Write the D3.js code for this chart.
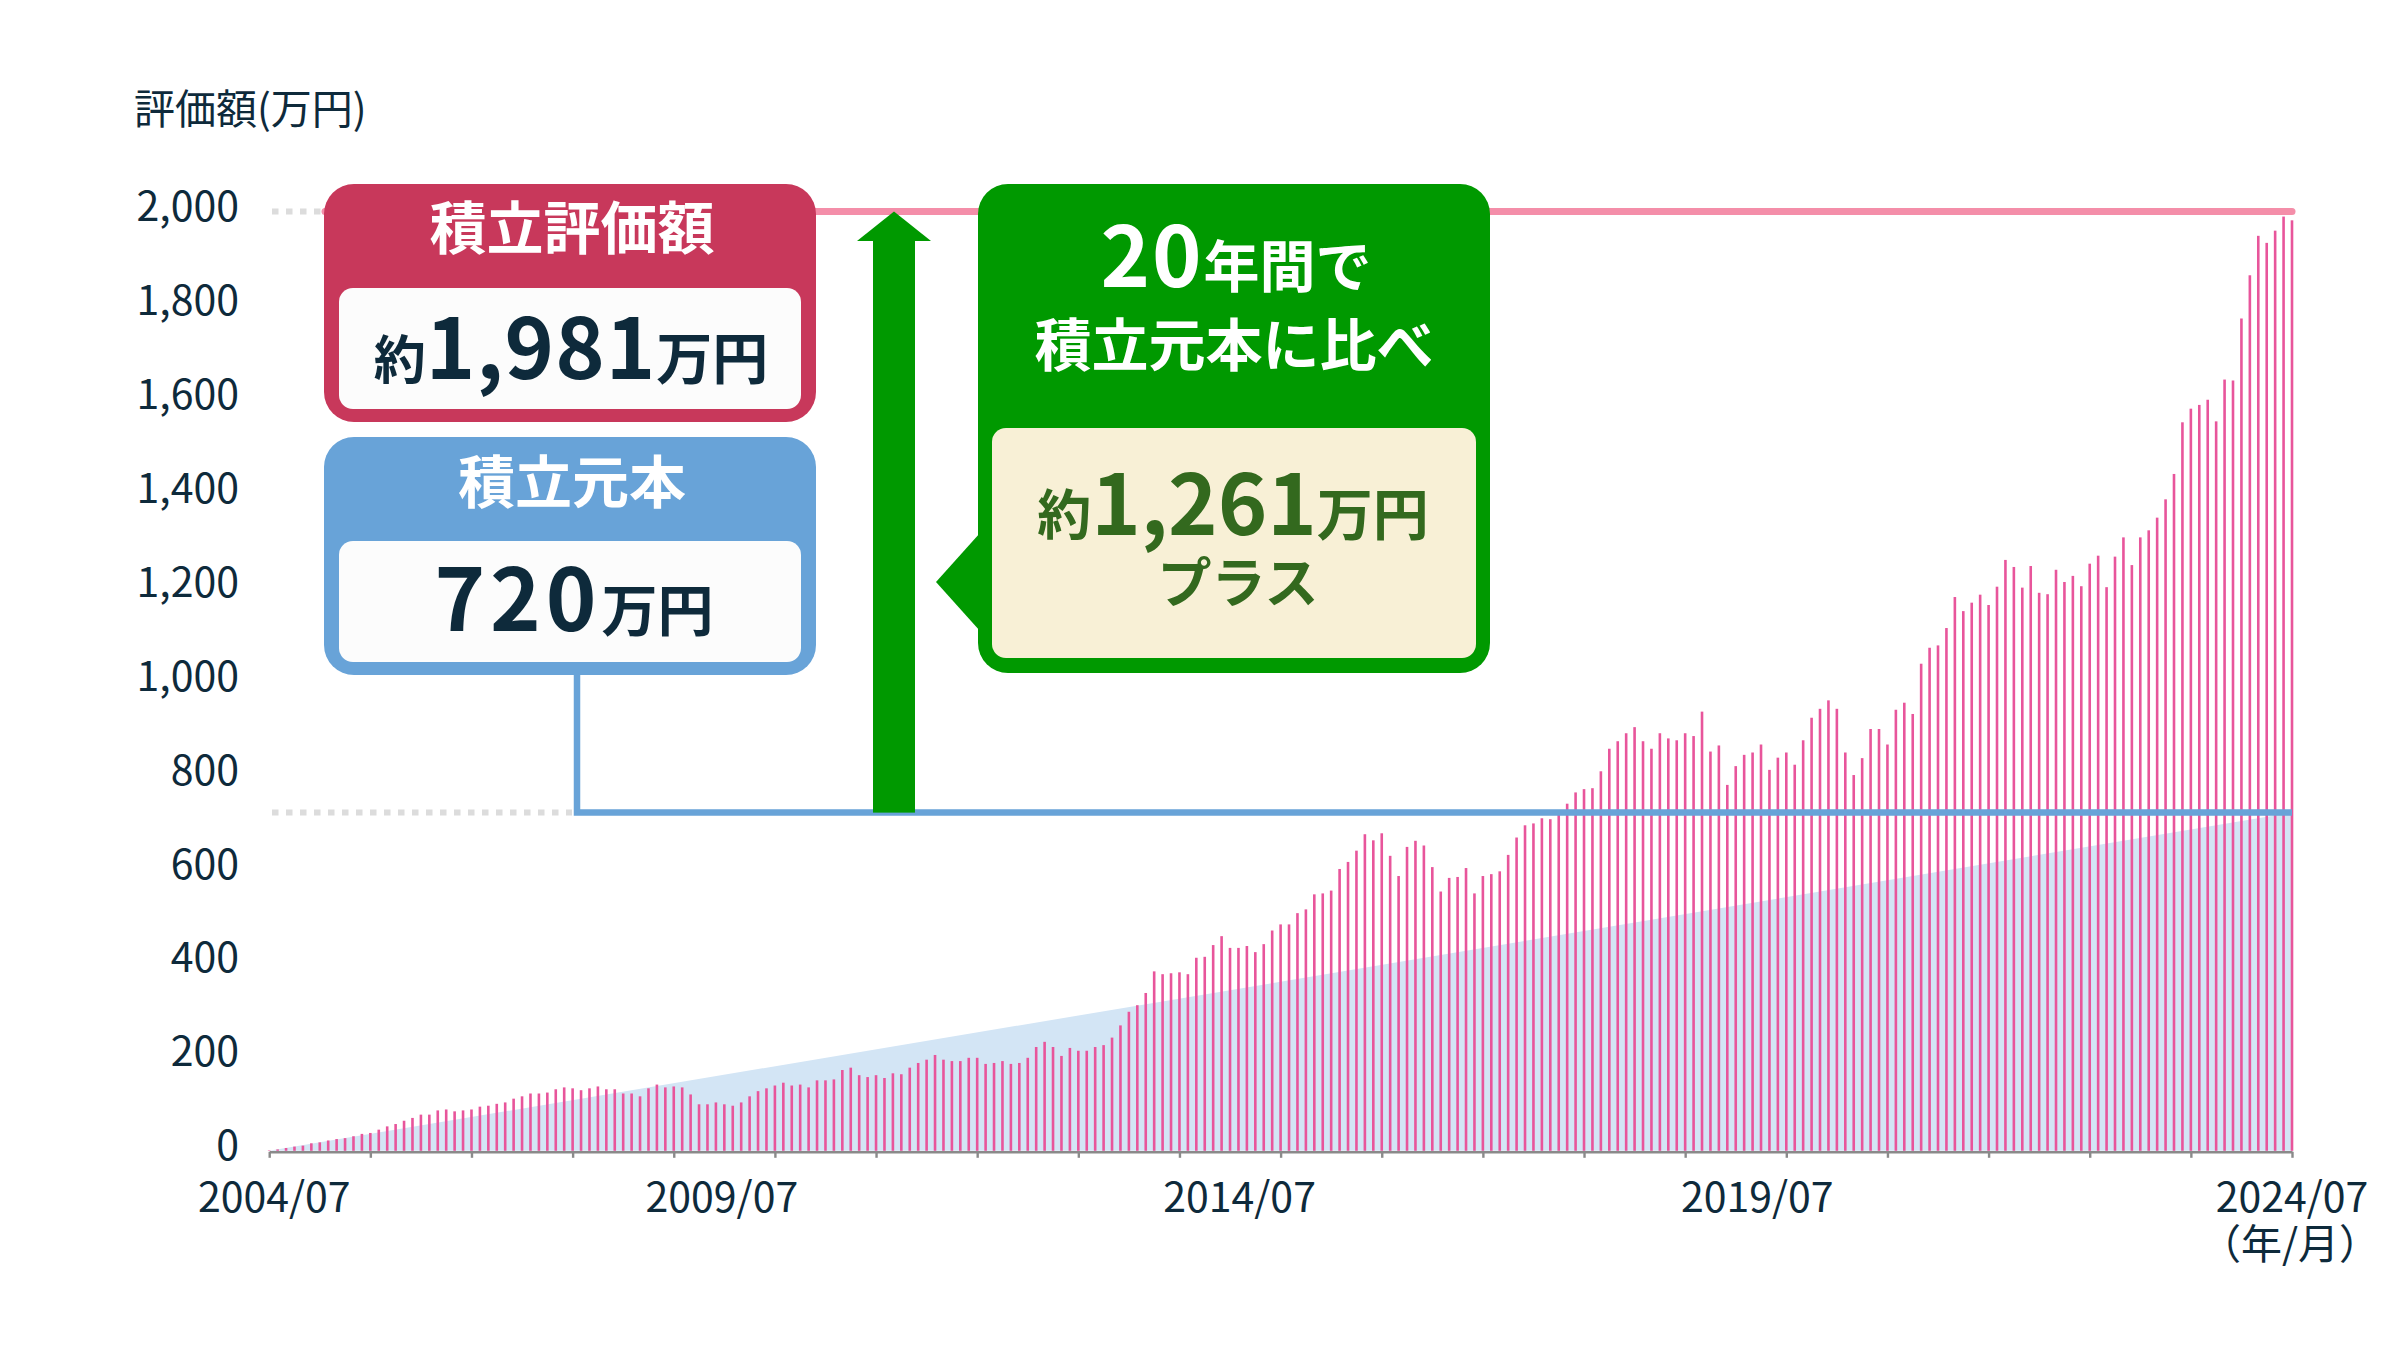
<!DOCTYPE html>
<html lang="ja">
<head>
<meta charset="utf-8">
<script src="https://cdn.jsdelivr.net/npm/d3@7"></script>
<style>
  html, body { margin: 0; padding: 0; background: #fff; }
  svg { display: block; font-family: "Noto Sans CJK JP", "Noto Sans", sans-serif; }
</style>
</head>
<body>
<svg id="chart" width="2400" height="1350"></svg>
<script>
// 積立評価額 (万円) 2004/07 - 2024/07 monthly
const valuation = [
  1, 3, 6, 9, 11, 16, 18, 22, 25, 27, 31, 36,
  38, 45, 52, 57, 64, 70, 77, 77, 86, 88, 84, 86,
  88, 94, 96, 100, 103, 111, 116, 122, 122, 124, 131, 135,
  133, 129, 133, 137, 131, 131, 122, 122, 116, 133, 141, 135,
  137, 135, 120, 99, 99, 103, 99, 96, 103, 116, 127, 133,
  139, 145, 139, 141, 135, 150, 150, 152, 172, 177, 161, 157,
  161, 155, 165, 163, 177, 187, 194, 204, 194, 191, 191, 198,
  198, 185, 187, 191, 185, 187, 198, 221, 232, 221, 202, 219,
  213, 213, 221, 225, 241, 267, 296, 310, 336, 382, 376, 378,
  380, 376, 411, 413, 438, 457, 432, 432, 436, 423, 440, 469,
  482, 482, 506, 514, 546, 548, 554, 600, 615, 639, 674, 661,
  676, 628, 585, 647, 660, 650, 604, 552, 581, 583, 602, 548,
  585, 589, 595, 630, 667, 693, 697, 708, 706, 719, 739, 763,
  770, 772, 808, 856, 872, 889, 902, 872, 856, 889, 878, 874,
  889, 883, 935, 850, 863, 779, 819, 843, 848, 865, 811, 837,
  848, 822, 874, 922, 941, 959, 941, 848, 800, 836, 898, 898,
  865, 939, 954, 930, 1037, 1071, 1076, 1113, 1179, 1149, 1167, 1184,
  1162, 1201, 1258, 1243, 1199, 1245, 1188, 1185, 1237, 1211, 1224, 1202,
  1250, 1267, 1200, 1265, 1306, 1247, 1306, 1321, 1348, 1387, 1441, 1551,
  1580, 1588, 1599, 1553, 1642, 1640, 1772, 1864, 1948, 1933, 1959, 1989,
  1981
];

// 積立元本: 3万円/月, 0 -> 720
const principalMonths = ["2004/07", "2024/07"];
const principalValues = [0, 720];

const yTicks = [0, 200, 400, 600, 800, 1000, 1200, 1400, 1600, 1800, 2000];
const xTickLabels = ["2004/07", "2009/07", "2014/07", "2019/07", "2024/07"];

const finalValue = "1,981";
const principalTotal = "720";
const gain = "1,261";

const months = d3.timeMonth
  .range(new Date(2004, 6, 1), new Date(2024, 7, 1))
  .map(d3.timeFormat("%Y/%m"));

// layout
const navy = "#0e2a3b";
const pink = "#c8385b";
const blue = "#68a3d8";
const green = "#009900";
const labelShift = [5, -53, -41, -29, 0];

const svg = d3.select("#chart");

const x = d3.scalePoint().domain(months).range([269.2, 2292]);
const y = d3.scaleLinear().domain([0, 2000]).range([1150.8, 211.4]);

// principal area
svg.append("path")
  .datum(principalValues)
  .attr("fill", "#d3e5f5")
  .attr("d", d3.area()
    .x((d, i) => x(principalMonths[i]))
    .y0(y(0))
    .y1(d => y(d)));

// valuation bars
svg.append("g")
  .selectAll("rect")
  .data(valuation)
  .join("rect")
  .attr("x", (d, i) => x(months[i]) - 1.3)
  .attr("width", 2.6)
  .attr("y", d => y(d))
  .attr("height", d => y(0) - y(d))
  .attr("fill", "#e8559b");

// reference lines
svg.append("line")
  .attr("x1", 325).attr("x2", x(months[months.length - 1]))
  .attr("y1", y(2000)).attr("y2", y(2000))
  .attr("stroke", "#f48ea9").attr("stroke-width", 7)
  .attr("stroke-linecap", "round");

svg.append("line")
  .attr("x1", 272).attr("x2", 322)
  .attr("y1", y(2000)).attr("y2", y(2000))
  .attr("stroke", "#dcdcdc").attr("stroke-width", 6)
  .attr("stroke-dasharray", "6.5 7.5");

svg.append("line")
  .attr("x1", 272).attr("x2", 572)
  .attr("y1", y(720)).attr("y2", y(720))
  .attr("stroke", "#dcdcdc").attr("stroke-width", 6)
  .attr("stroke-dasharray", "6.5 7.5");

svg.append("path")
  .attr("d", `M577,670V${y(720)}H${x(months[months.length - 1])}`)
  .attr("fill", "none")
  .attr("stroke", blue).attr("stroke-width", 6.5);

// green arrow
svg.append("rect")
  .attr("x", 873).attr("y", 239)
  .attr("width", 42).attr("height", y(720) - 239)
  .attr("fill", green);
svg.append("path")
  .attr("d", `M857,241L894,${y(2000)}L931,241Z`)
  .attr("fill", green);

// x axis
const yearTicks = months.filter(m => m.endsWith("/07"));
const xAxis = svg.append("g")
  .attr("transform", `translate(0,${y(0) + 1})`)
  .call(d3.axisBottom(x).tickValues(yearTicks).tickSize(6).tickSizeOuter(0).tickFormat(""));
xAxis.select(".domain").attr("stroke", "#8a8a8a").attr("stroke-width", 2.6);
xAxis.selectAll(".tick line").attr("stroke", "#8a8a8a").attr("stroke-width", 2.4);

svg.append("g")
  .selectAll("text")
  .data(xTickLabels)
  .join("text")
  .attr("x", (d, i) => x(d) + labelShift[i])
  .attr("y", 1212)
  .attr("text-anchor", "middle")
  .attr("font-size", 41)
  .attr("fill", navy)
  .text(d => d);

svg.append("text")
  .attr("x", x(xTickLabels[xTickLabels.length - 1]) - 2)
  .attr("y", 1259)
  .attr("text-anchor", "middle")
  .attr("font-size", 41)
  .attr("fill", navy)
  .text("（年/月）");

// y axis
const yAxis = svg.append("g")
  .attr("transform", "translate(239,0)")
  .call(d3.axisLeft(y).tickValues(yTicks).tickSize(0).tickPadding(0).tickFormat(d3.format(",")));
yAxis.select(".domain").remove();
yAxis.selectAll("text")
  .attr("font-family", "'Noto Sans CJK JP', 'Noto Sans', sans-serif")
  .attr("font-size", 41)
  .attr("fill", navy)
  .attr("dy", "0.22em");

svg.append("text")
  .attr("x", 134).attr("y", 124)
  .attr("font-size", 41)
  .attr("fill", navy)
  .text("評価額(万円)");

// callout boxes
function box(bx, by, w, h, fill, inner, innerFill) {
  svg.append("rect")
    .attr("x", bx).attr("y", by).attr("width", w).attr("height", h)
    .attr("rx", 30).attr("fill", fill);
  svg.append("rect")
    .attr("x", inner[0]).attr("y", inner[1]).attr("width", inner[2]).attr("height", inner[3])
    .attr("rx", 14).attr("fill", innerFill);
}

function label(tx, ty, parts, color) {
  const t = svg.append("text")
    .attr("x", tx).attr("y", ty)
    .attr("text-anchor", "middle")
    .attr("font-weight", 700)
    .attr("fill", color);
  parts.forEach(([s, size, ls]) => t.append("tspan")
    .attr("font-size", size)
    .attr("letter-spacing", ls || 0)
    .text(s));
  return t;
}

box(324, 184, 492, 238, pink, [339, 288, 462, 121], "#fcfcfc");
label(572, 249, [["積立評価額", 57]], "#fff");
label(571, 379, [["約", 52], [finalValue, 84, 1], ["万円", 56]], navy);

box(324, 437, 492, 238, blue, [339, 541, 462, 121], "#fcfcfc");
label(572, 503, [["積立元本", 57]], "#fff");
label(574, 631, [[principalTotal, 86, 5], ["万円", 56]], navy);

svg.append("path")
  .attr("d", "M980,533L936,582L980,631Z")
  .attr("fill", green);
box(978, 184, 512, 489, green, [992, 428, 484, 230], "#f8f0d6");
label(1236, 287, [["20", 84, 2], ["年間で", 56]], "#fff");
label(1234, 366, [["積立元本に比べ", 57]], "#fff");
label(1233, 535, [["約", 54], [gain, 84], ["万円", 56]], "#33691e");
label(1238, 603, [["プラス", 54]], "#33691e");
</script>
</body>
</html>
